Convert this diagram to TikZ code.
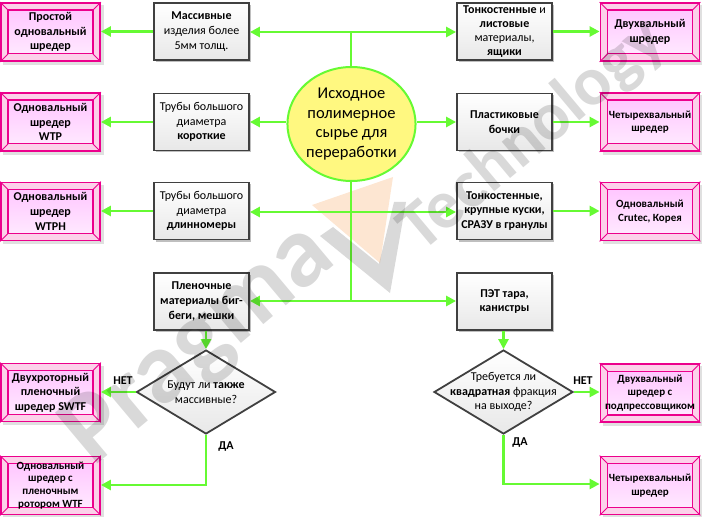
\documentclass[tikz,border=0pt]{standalone}
\usepackage{fontspec}
\setmainfont{Carlito}
\usetikzlibrary{arrows.meta,shapes.geometric,shadows,calc,backgrounds}
\definecolor{lgreen}{RGB}{102,250,51}
\definecolor{dgray}{RGB}{64,64,64}
\definecolor{peach}{RGB}{253,230,210}
\pgfdeclarelayer{wm}
\pgfsetlayers{wm,background,main}
\begin{document}
\begin{tikzpicture}[x=1bp,y=-1bp,
  every node/.style={font=\fontsize{12bp}{14.6bp}\selectfont, text=black},
  graybox/.style={draw=dgray, line width=1.8bp, top color=white, bottom color=black!9,
    minimum width=95bp, minimum height=57bp, inner sep=0pt, align=center,
    drop shadow={shadow xshift=2bp, shadow yshift=-2bp, opacity=0.25, fill=black}},
  pinkbox/.style={draw=magenta, line width=1.8bp, minimum width=99bp, minimum height=58bp,
    inner sep=0pt, align=center, font=\bfseries\fontsize{12bp}{14.6bp}\selectfont},
  smallpink/.style={pinkbox, font=\bfseries\fontsize{11bp}{13.4bp}\selectfont},
  decision/.style={diamond, draw=dgray, line width=1.8bp, top color=white, bottom color=black!9,
    minimum width=139bp, minimum height=84bp, inner sep=0pt},
  source/.style={ellipse, draw=lgreen, line width=2bp, fill=yellow!50, minimum width=123bp,
    minimum height=114bp, inner sep=0pt, align=center, font=\fontsize{16.5bp}{19.5bp}\selectfont},
  flow/.style={draw=lgreen, line width=2.5bp, -{Triangle[length=10bp,width=10bp]}},
  link/.style={draw=lgreen, line width=2.5bp},
  lbl/.style={font=\bfseries\fontsize{12bp}{14bp}\selectfont},
  wmtext/.style={text=black, text opacity=0.15, inner sep=0pt}
]
\useasboundingbox (0,0) rectangle (702,517);

% watermark V (behind)
\begin{pgfonlayer}{wm}
  \fill[peach] (312,205) -- (393,177) -- (380,263) -- cycle;
\end{pgfonlayer}

% gray boxes
\node[graybox] (m1) at (201.5,31.5) {\textbf{Массивные}\\изделия более\\5мм толщ.};
\node[graybox] (m2) at (201.5,122) {Трубы большого\\диаметра\\\textbf{короткие}};
\node[graybox] (m3) at (201.5,211) {Трубы большого\\диаметра\\\textbf{длинномеры}};
\node[graybox] (m4) at (201.5,301.5) {\textbf{Пленочные}\\\textbf{материалы биг-}\\\textbf{беги, мешки}};
\node[graybox, font=\fontsize{12bp}{14.2bp}\selectfont] (r1) at (504.5,31.5) {\textbf{Тонкостенные} и\\\textbf{листовые}\\материалы,\\\textbf{ящики}};
\node[graybox] (r2) at (504.5,122) {\textbf{Пластиковые}\\\textbf{бочки}};
\node[graybox] (r3) at (504.5,211) {\textbf{Тонкостенные,}\\\textbf{крупные куски,}\\\textbf{СРАЗУ в гранулы}};
\node[graybox] (r4) at (504.5,301.5) {\textbf{ПЭТ тара,}\\\textbf{канистры}};

% pink boxes
\node[pinkbox] (p1) at (50.5,32) {Простой\\одновальный\\шредер};
\node[pinkbox] (p2) at (50.5,122) {Одновальный\\шредер\\WTP};
\node[pinkbox] (p3) at (50.5,211.5) {Одновальный\\шредер\\WTPH};
\node[pinkbox] (p4) at (50.5,392.5) {Двухроторный\\пленочный\\шредер SWTF};
\node[smallpink, font=\bfseries\fontsize{11bp}{12.8bp}\selectfont] (p5) at (50.5,485.5) {Одновальный\\шредер с\\пленочным\\ротором WTF};
\node[pinkbox] (q1) at (650,32) {Двухвальный\\шредер};
\node[smallpink] (q2) at (650,122) {Четырехвальный\\шредер};
\node[smallpink] (q3) at (650,211.5) {Одновальный\\Crutec, Корея};
\node[smallpink] (q4) at (650,393) {Двухвальный\\шредер с\\подпрессовщиком};
\node[smallpink] (q5) at (650,485.5) {Четырехвальный\\шредер};

\begin{pgfonlayer}{background}
\foreach \n in {p1,p2,p3,p4,p5,q1,q2,q3,q4,q5}{
  \fill[black, opacity=0.12] ($(\n.north west)+(3,3)$) rectangle ($(\n.south east)+(3,3)$);
  \fill[magenta!18] (\n.north west) rectangle (\n.south east);
  \shade[top color=magenta!22, bottom color=magenta!9] ($(\n.north west)+(8,8)$) rectangle ($(\n.south east)+(-8,-8)$);
  \draw[magenta, line width=1.2bp] ($(\n.north west)+(8,8)$) rectangle ($(\n.south east)+(-8,-8)$);
  \draw[magenta, line width=0.8bp] (\n.north west) -- ++(8,8);
  \draw[magenta, line width=0.8bp] (\n.north east) -- ++(-8,8);
  \draw[magenta, line width=0.8bp] (\n.south west) -- ++(8,-8);
  \draw[magenta, line width=0.8bp] (\n.south east) -- ++(-8,-8);
}
\end{pgfonlayer}

% trunk
\coordinate (ttop) at (351,32);
\coordinate (tmid) at (351,212);
\coordinate (tbot) at (351,301);
\draw[link] (ttop) -- (tbot);

% source
\node[source] (c) at (351.5,124) {Исходное\\полимерное\\сырье для\\переработки};

% decisions
\node[decision] (d1) at (206,392) {};
\node[align=center] (d1t) at (d1.center) {Будут ли \textbf{также}\\массивные?};
\node[decision] (d2) at (503.5,392) {};
\node[align=center] (d2t) at (d2.center) {Требуется ли\\\textbf{квадратная} фракция\\на выходе?};

% connectors from trunk
\draw[flow] (ttop) -- (ttop -| m1.east);
\draw[flow] (ttop) -- (ttop -| r1.west);
\draw[flow] (c.west |- m2.east) -- (m2.east);
\draw[flow] (c.east |- r2.west) -- (r2.west);
\draw[flow] (tmid) -- (tmid -| m3.east);
\draw[flow] (tmid) -- (tmid -| r3.west);
\draw[flow] (tbot) -- (tbot -| m4.east);
\draw[flow] (tbot) -- (tbot -| r4.west);

% to shredders
\draw[flow] (m1.west) -- (m1.west -| p1.east);
\draw[flow] (m2.west) -- (m2.west -| p2.east);
\draw[flow] (m3.west) -- (m3.west -| p3.east);
\draw[flow] (r1.east) -- (r1.east -| q1.west);
\draw[flow] (r2.east) -- (r2.east -| q2.west);
\draw[flow] (r3.east) -- (r3.east -| q3.west);

% decisions flow
\draw[flow] (m4.south -| d1.north) -- (d1.north);
\draw[flow] (r4.south -| d2.north) -- (d2.north);
\draw[flow] (d1.west) -- (d1.west -| p4.east);
\draw[flow] (d2.east) -- (d2.east -| q4.west);
\coordinate (k1) at (206,485);
\coordinate (k2) at (503.5,484);
\draw[flow] (d1.south) -- (k1) -- (k1 -| p5.east);
\draw[flow] (d2.south) -- (k2) -- (k2 -| q5.west);

\node[lbl] (n1) at (123,381) {НЕТ};
\node[lbl] (y1) at (226,447) {ДА};
\node[lbl] (n2) at (583,381) {НЕТ};
\node[lbl] (y2) at (520,443) {ДА};

% watermark
\fill[black, opacity=0.15] (320,236) -- (333,227) -- (379,264) -- (394,202) -- (406,202) -- (390,293) -- cycle;
\node[wmtext, rotate=40, font=\bfseries\fontsize{102bp}{102bp}\selectfont] (wm1) at (200,346) {Pragma};
\node[wmtext, rotate=40, font=\bfseries\fontsize{69bp}{69bp}\selectfont] (wm2) at (533,136) {Technology};
\end{tikzpicture}
\end{document}
